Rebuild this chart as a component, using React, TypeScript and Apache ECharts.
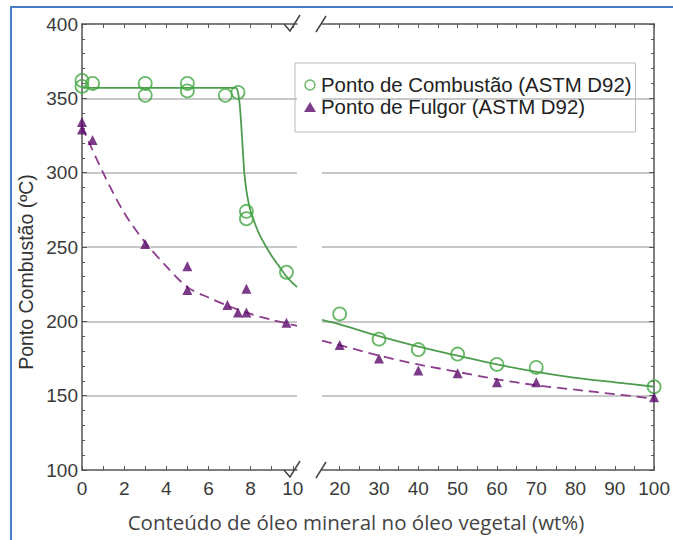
import React, { useEffect, useRef } from "react";
import * as echarts from "echarts";

const COMB_NAME = "Ponto de Combustão (ASTM D92)";
const FULG_NAME = "Ponto de Fulgor (ASTM D92)";
const Y_TITLE = "Ponto Combustão (ºC)";
const X_TITLE = "Conteúdo de óleo mineral no óleo vegetal (wt%)";

// measured points (x = wt% mineral oil, y = °C)
const combustaoLeft: [number, number][] = [
  [0, 362], [0, 358], [0.5, 360], [3, 360], [3, 352], [5, 360], [5, 355],
  [6.8, 352], [7.4, 354], [7.8, 274], [7.8, 269], [9.7, 233],
];
const combustaoRight: [number, number][] = [
  [20, 205], [30, 188], [40, 181], [50, 178], [60, 171], [70, 169], [100, 156],
];
const fulgorLeft: [number, number][] = [
  [0, 334], [0, 329], [0.5, 322], [3, 252], [5, 237], [5, 221], [6.9, 211],
  [7.4, 206], [7.8, 206], [7.8, 222], [9.7, 199],
];
const fulgorRight: [number, number][] = [
  [20, 184], [30, 175], [40, 167], [50, 165], [60, 159], [70, 159], [100, 149],
];

// fitted trend curves
const combFitLeft: [number, number][] = [
  [0, 357], [7.3, 357], [7.4, 354], [7.5, 343], [7.6, 322], [7.7, 300],
  [7.8, 288], [7.9, 280], [8, 274], [8.2, 266], [8.4, 259], [8.7, 251],
  [9, 244], [9.3, 238], [9.6, 232], [9.9, 227], [10.2, 223],
];
const combFitRight: [number, number][] = [
  [15.5, 201], [20, 198], [30, 190], [40, 183], [50, 177], [60, 171],
  [70, 166], [80, 162], [90, 159], [100, 156],
];
const fulgFitLeft: [number, number][] = [
  [0, 331], [1, 300], [2, 273], [3, 253], [4, 237], [5, 223], [6, 216],
  [7, 210], [8, 205], [9, 201], [10.2, 197],
];
const fulgFitRight: [number, number][] = [
  [15.5, 187], [20, 184], [30, 177], [40, 171], [50, 166], [60, 161],
  [70, 157], [80, 154], [90, 151], [100, 148],
];

const xTicksLeft = [0, 1, 2, 3, 4, 5, 6, 7, 8, 9, 10];
const xLabelsLeft = [0, 2, 4, 6, 8, 10];
const xTicksRight = [20, 25, 30, 35, 40, 45, 50, 55, 60, 65, 70, 75, 80, 85, 90, 95, 100];
const xLabelsRight = [20, 30, 40, 50, 60, 70, 80, 90, 100];

const GREEN = "#43a843";
const GREEN_LINE = "#4f9c4f";
const PURPLE = "#5a0a6c";
const PURPLE_LINE = "#8c3c8c";
const AXIS = "#555";
const FONT = "Liberation Sans, Arial, sans-serif";

export default function App() {
  const ref = useRef<HTMLDivElement>(null);
  useEffect(() => {
    if (!ref.current) return;
    const chart = echarts.init(ref.current, null, { renderer: "svg" });

    const axisLine = { show: true, lineStyle: { color: AXIS, width: 1.5 } };
    const xBottom = (grid: number, min: number, max: number, ticks: number[], labels: number[]) => ({
      type: "value", gridIndex: grid, position: "bottom", min, max,
      axisLine: { ...axisLine, onZero: false },
      axisTick: { show: true, inside: true, length: 4, customValues: ticks, lineStyle: { color: AXIS } },
      axisLabel: { show: true, customValues: labels, fontSize: 19, color: "#3a3a3a", fontFamily: FONT, margin: 9 },
      splitLine: { show: false },
    });
    const xTop = (grid: number, min: number, max: number, ticks: number[]) => ({
      type: "value", gridIndex: grid, position: "top", min, max,
      axisLine: { ...axisLine, onZero: false },
      axisTick: { show: true, inside: true, length: 4, customValues: ticks, lineStyle: { color: AXIS } },
      axisLabel: { show: false },
      splitLine: { show: false },
    });

    const option: any = {
      animation: false,
      backgroundColor: "#fff",
      grid: [
        { left: 82, top: 24, width: 215, height: 446 },
        { left: 322, top: 24, width: 335, height: 446 },
      ],
      xAxis: [
        xBottom(0, 0, 10.2, xTicksLeft, xLabelsLeft),
        xTop(0, 0, 10.2, xTicksLeft),
        xBottom(1, 15.5, 100, xTicksRight, xLabelsRight),
        xTop(1, 15.5, 100, xTicksRight),
      ],
      yAxis: [
        {
          type: "value", gridIndex: 0, position: "left", min: 100, max: 400, interval: 50,
          axisLine: { ...axisLine, onZero: false },
          axisTick: { show: true, inside: true, length: 5, lineStyle: { color: AXIS } },
          minorTick: { show: true, splitNumber: 5, length: 3, lineStyle: { color: AXIS } },
          axisLabel: { fontSize: 19, color: "#3a3a3a", fontFamily: FONT, margin: 4 },
          splitLine: { show: true, showMinLine: false, showMaxLine: false, lineStyle: { color: "#c8c8c8", width: 2 } },
        },
        {
          type: "value", gridIndex: 1, position: "right", min: 100, max: 400, interval: 50,
          axisLine: { ...axisLine, onZero: false },
          axisTick: { show: true, inside: true, length: 5, lineStyle: { color: AXIS } },
          minorTick: { show: true, splitNumber: 5, length: 3, lineStyle: { color: AXIS } },
          axisLabel: { show: false },
          splitLine: { show: true, showMinLine: false, showMaxLine: false, lineStyle: { color: "#c8c8c8", width: 2 } },
        },
      ],
      legend: {
        orient: "vertical", left: 295, top: 63,
        padding: [12, 4, 15, 9], itemGap: 2, itemWidth: 12, itemHeight: 10,
        borderColor: "#bbb", borderWidth: 1,
        textStyle: { fontSize: 20.4, color: "#222", fontFamily: FONT },
        data: [
          { name: COMB_NAME, icon: "circle", itemStyle: { color: "#fff", borderColor: GREEN, borderWidth: 1.5 } },
          { name: FULG_NAME, icon: "triangle", itemStyle: { color: PURPLE } },
        ],
      },
      series: [
        { type: "line", name: "fitCombL", xAxisIndex: 0, yAxisIndex: 0, data: combFitLeft, smooth: 0.2, showSymbol: false, lineStyle: { color: GREEN_LINE, width: 1.8 }, z: 2 },
        { type: "line", name: "fitCombR", xAxisIndex: 2, yAxisIndex: 1, data: combFitRight, smooth: 0.3, showSymbol: false, lineStyle: { color: GREEN_LINE, width: 1.8 }, z: 2 },
        { type: "line", name: "fitFulgL", xAxisIndex: 0, yAxisIndex: 0, data: fulgFitLeft, smooth: 0.3, showSymbol: false, lineStyle: { color: PURPLE_LINE, width: 1.8, type: [10, 6] }, z: 2 },
        { type: "line", name: "fitFulgR", xAxisIndex: 2, yAxisIndex: 1, data: fulgFitRight, smooth: 0.3, showSymbol: false, lineStyle: { color: PURPLE_LINE, width: 1.8, type: [10, 6] }, z: 2 },
        { type: "scatter", name: COMB_NAME, xAxisIndex: 0, yAxisIndex: 0, data: combustaoLeft, symbol: "circle", symbolSize: 13, clip: false, itemStyle: { color: "rgba(255,255,255,0)", borderColor: GREEN, borderWidth: 1.8 }, z: 4 },
        { type: "scatter", name: COMB_NAME, xAxisIndex: 2, yAxisIndex: 1, data: combustaoRight, symbol: "circle", symbolSize: 13, clip: false, itemStyle: { color: "rgba(255,255,255,0)", borderColor: GREEN, borderWidth: 1.8 }, z: 4 },
        { type: "scatter", name: FULG_NAME, xAxisIndex: 0, yAxisIndex: 0, data: fulgorLeft, symbol: "triangle", symbolSize: 10, clip: false, itemStyle: { color: PURPLE }, z: 5 },
        { type: "scatter", name: FULG_NAME, xAxisIndex: 2, yAxisIndex: 1, data: fulgorRight, symbol: "triangle", symbolSize: 10, clip: false, itemStyle: { color: PURPLE }, z: 5 },
      ],
      graphic: [
        { type: "rect", shape: { x: 11, y: 7, width: 700, height: 600 }, style: { fill: "none", stroke: "#4a7cc4", lineWidth: 2 }, silent: true, z: 10 },
        { type: "text", x: 356, y: 522, style: { text: X_TITLE, fontSize: 20.5, fill: "#444", fontFamily: "Open Sans, sans-serif", align: "center", verticalAlign: "middle" }, z: 10 },
        { type: "text", x: 26, y: 272, rotation: Math.PI / 2, style: { text: Y_TITLE, fontSize: 19.5, fill: "#333", fontFamily: FONT, align: "center", verticalAlign: "middle" }, z: 10 },
        // axis break marks
        { type: "rect", shape: { x: 298, y: 14, width: 20, height: 20 }, style: { fill: "#fff" }, z: 9 },
        { type: "rect", shape: { x: 298, y: 460, width: 20, height: 20 }, style: { fill: "#fff" }, z: 9 },
        { type: "polyline", shape: { points: [[284, 24], [290, 31], [300, 15]] }, style: { stroke: "#444", lineWidth: 1.5, fill: "none" }, z: 10 },
        { type: "line", shape: { x1: 316, y1: 32, x2: 326, y2: 16 }, style: { stroke: "#444", lineWidth: 1.5 }, z: 10 },
        { type: "polyline", shape: { points: [[284, 470], [290, 477], [300, 461]] }, style: { stroke: "#444", lineWidth: 1.5, fill: "none" }, z: 10 },
        { type: "line", shape: { x1: 316, y1: 478, x2: 326, y2: 462 }, style: { stroke: "#444", lineWidth: 1.5 }, z: 10 },
      ],
    };
    chart.setOption(option);
    return () => chart.dispose();
  }, []);
  return <div ref={ref} style={{ position: "fixed", left: 0, top: 0, width: 673, height: 540 }} />;
}
